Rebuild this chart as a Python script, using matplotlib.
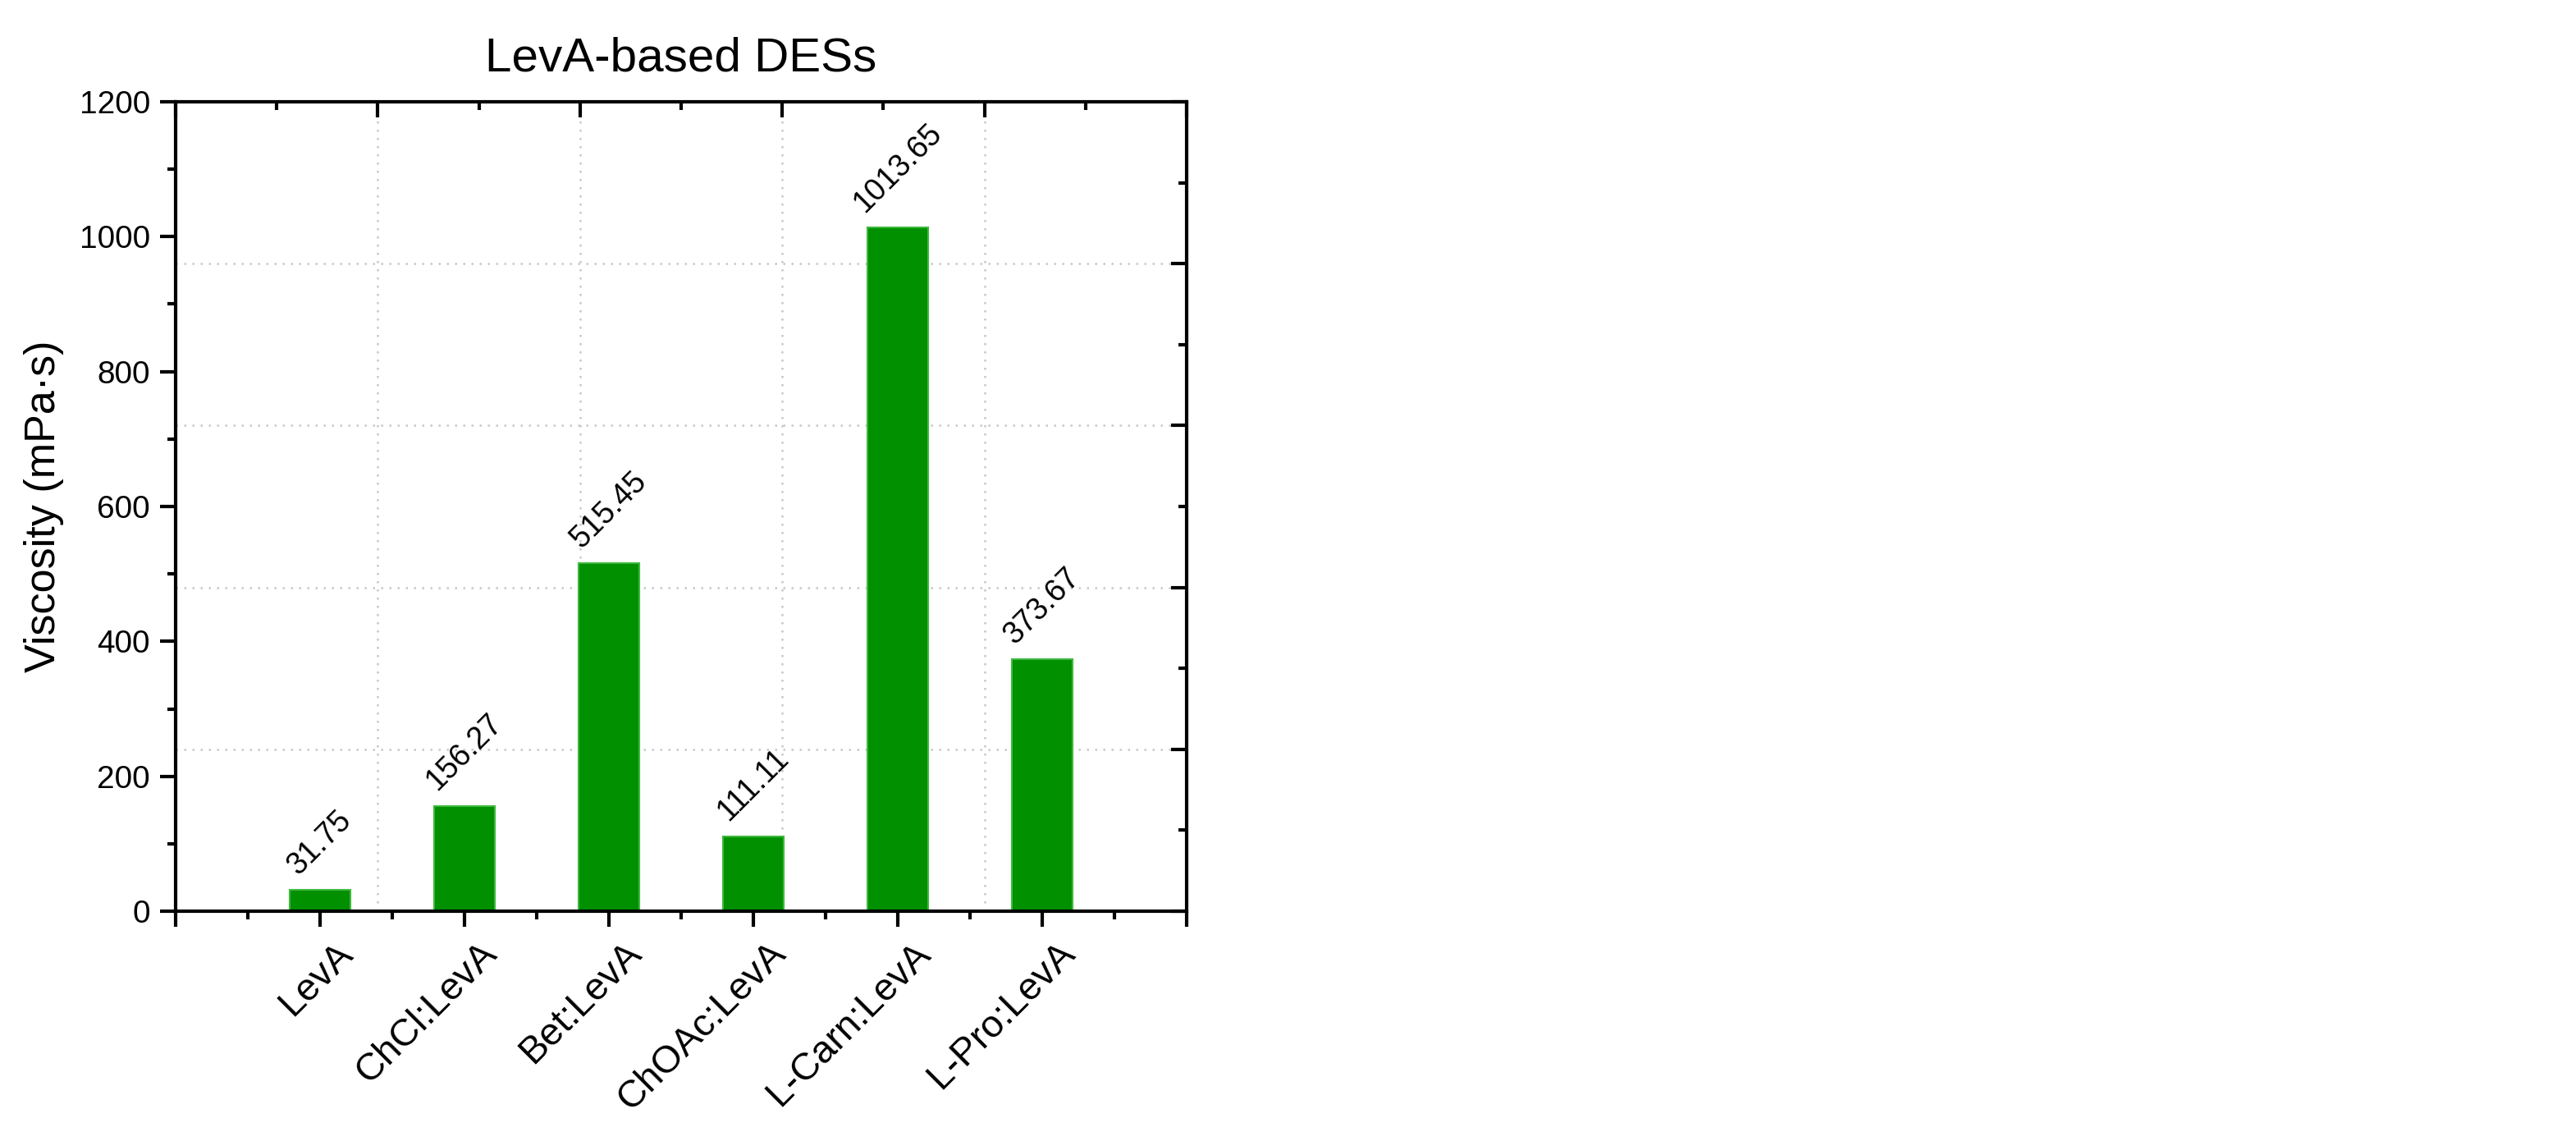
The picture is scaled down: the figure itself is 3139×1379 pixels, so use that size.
import matplotlib
matplotlib.use("Agg")
import matplotlib.pyplot as plt
from matplotlib.ticker import MultipleLocator, NullFormatter
from matplotlib.transforms import ScaledTranslation

categories = ["LevA", "ChCl:LevA", "Bet:LevA", "ChOAc:LevA", "L-Carn:LevA", "L-Pro:LevA"]
viscosity = [31.75, 156.27, 515.45, 111.11, 1013.65, 373.67]
value_labels = ["31.75", "156.27", "515.45", "111.11", "1013.65", "373.67"]
title = "LevA-based DESs"
ylabel = "Viscosity (mPa·s)"

plt.rcParams['font.family'] = ['Liberation Sans', 'DejaVu Sans']

W, H, DPI = 3139, 1379, 300
fig = plt.figure(figsize=(W / DPI, H / DPI), dpi=DPI)
pos = [214 / W, 1 - 1110 / H, (1446 - 214) / W, (1110 - 124) / H]

# background axes for top/right ticks and grid
ax2 = fig.add_axes(pos, zorder=0)
ax2.set_xlim(0, 5)
ax2.set_ylim(0, 5)
ax2.xaxis.set_major_locator(MultipleLocator(1))
ax2.xaxis.set_minor_locator(MultipleLocator(0.5))
ax2.yaxis.set_major_locator(MultipleLocator(1))
ax2.yaxis.set_minor_locator(MultipleLocator(0.5))
ax2.xaxis.tick_top()
ax2.yaxis.tick_right()
ax2.xaxis.set_major_formatter(NullFormatter())
ax2.yaxis.set_major_formatter(NullFormatter())
ax2.tick_params(which='major', direction='in', length=4.5, width=1.0)
ax2.tick_params(which='minor', direction='in', length=2.4, width=1.0)
ax2.grid(True, which='major', color='#c8c8c8', linestyle=(0, (1, 3)), linewidth=0.6)
for s in ax2.spines.values():
    s.set_visible(False)

ax = fig.add_axes(pos, zorder=1)
ax.patch.set_visible(False)
x = list(range(1, len(categories) + 1))
bars = ax.bar(x, viscosity, width=0.42, color='#009000', edgecolor='#3fb83f', linewidth=0.5, zorder=2)
ax.set_xlim(0, 7)
ax.set_ylim(0, 1200)
ax.xaxis.set_major_locator(MultipleLocator(1))
ax.xaxis.set_minor_locator(MultipleLocator(0.5))
ax.yaxis.set_major_locator(MultipleLocator(200))
ax.yaxis.set_minor_locator(MultipleLocator(100))
ax.set_xticks(range(0, 8))
ax.set_xticklabels([""] + categories + [""], rotation=45, ha='right', rotation_mode='anchor', fontsize=11.2)
ax.tick_params(axis='y', labelsize=9.3)
ax.tick_params(which='major', direction='out', length=4.5, width=1.0, pad=3)
ax.tick_params(which='minor', direction='out', length=2.4, width=1.0)
ax.tick_params(axis='x', which='major', pad=4)
shift = ScaledTranslation(4.2 / 72, 1.5 / 72, fig.dpi_scale_trans)
for lbl in ax.get_xticklabels():
    lbl.set_transform(lbl.get_transform() + shift)
for s in ax.spines.values():
    s.set_linewidth(1.0)

for xi, v, lab in zip(x, viscosity, value_labels):
    ax.annotate(lab, (xi, v), xytext=(0, 2.8), textcoords='offset points',
                rotation=45, ha='center', va='bottom', fontsize=9)

ax.set_ylabel(ylabel, fontsize=12.5, labelpad=4.5)
ax.set_title(title, fontsize=14, pad=9)

fig.savefig("out.png", dpi=DPI)
